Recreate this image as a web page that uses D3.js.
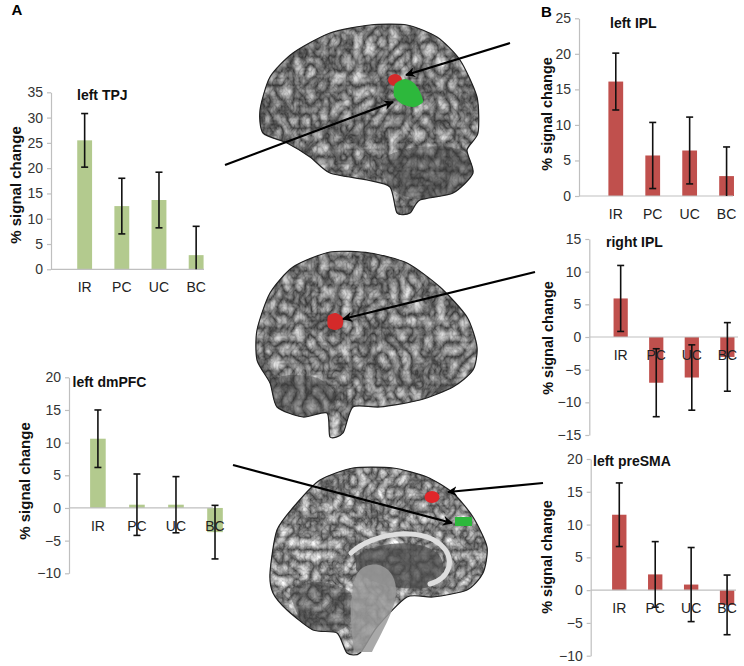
<!DOCTYPE html>
<html>
<head>
<meta charset="utf-8">
<script src="https://cdn.jsdelivr.net/npm/d3@7/dist/d3.min.js"></script>
<style>
  html, body { margin: 0; padding: 0; background: #fff; }
  svg { display: block; font-family: "Liberation Sans", Arial, sans-serif; }
</style>
</head>
<body>
<svg id="fig" width="744" height="666"></svg>
<script>
// ---------------- DATA ----------------
const categories = ["IR", "PC", "UC", "BC"];

const tpjMeans = [25.5, 12.5, 13.7, 2.8];
const tpjErrors = [5.3, 5.5, 5.5, 5.7];
const tpjTicks = [0, 5, 10, 15, 20, 25, 30, 35];

const dmpfcMeans = [10.6, 0.5, 0.5, -3.7];
const dmpfcErrors = [4.4, 4.7, 4.3, 4.1];
const dmpfcTicks = [-10, -5, 0, 5, 10, 15, 20];

const leftIplMeans = [16.1, 5.7, 6.4, 2.8];
const leftIplErrors = [4.0, 4.65, 4.7, 4.1];
const leftIplTicks = [0, 5, 10, 15, 20, 25];

const rightIplMeans = [5.9, -7.0, -6.2, -3.05];
const rightIplErrors = [5.05, 5.2, 5.0, 5.25];
const rightIplTicks = [-15, -10, -5, 0, 5, 10, 15];

const preSmaMeans = [11.5, 2.4, 0.85, -2.25];
const preSmaErrors = [4.85, 5.0, 5.65, 4.55];
const preSmaTicks = [-10, -5, 0, 5, 10, 15, 20];

const yLabel = "% signal change";
const GREEN = "#b3ca8e";
const RED = "#c0504d";

// ---------------- LAYOUT ----------------
const charts = [
  { title: "left TPJ", means: tpjMeans, errors: tpjErrors, ticks: tpjTicks, color: GREEN,
    axisX: 51, yMinPx: 269.3, yMaxPx: 92.3, cFirst: 73.5, cLast: 185, xEnd: 204,
    titleX: 77, titleY: 100, labX: 15, labY: 185, labFs: 15 },
  { title: "left dmPFC", means: dmpfcMeans, errors: dmpfcErrors, ticks: dmpfcTicks, color: GREEN,
    axisX: 69, yMinPx: 573.3, yMaxPx: 377.3, cFirst: 86.2, cLast: 203.3, xEnd: 213,
    titleX: 72.5, titleY: 387, labX: 24, labY: 481, labFs: 15 },
  { title: "left IPL", means: leftIplMeans, errors: leftIplErrors, ticks: leftIplTicks, color: RED,
    axisX: 579, yMinPx: 196, yMaxPx: 18.3, cFirst: 604.7, cLast: 715.5, xEnd: 733,
    titleX: 610, titleY: 28, labX: 547, labY: 114, labFs: 14.5 },
  { title: "right IPL", means: rightIplMeans, errors: rightIplErrors, ticks: rightIplTicks, color: RED,
    axisX: 589.3, yMinPx: 435, yMaxPx: 239, cFirst: 610, cLast: 716.7, xEnd: 738,
    titleX: 606, titleY: 246.5, labX: 548, labY: 338, labFs: 14.5 },
  { title: "left preSMA", means: preSmaMeans, errors: preSmaErrors, ticks: preSmaTicks, color: RED,
    axisX: 590.7, yMinPx: 655.7, yMaxPx: 459, cFirst: 608.5, cLast: 716.3, xEnd: 736,
    titleX: 593, titleY: 466, labX: 547, labY: 557, labFs: 14.5 }
];

const svg = d3.select("#fig");
const defs = svg.append("defs");

// ---------------- BRAIN ILLUSTRATIONS (decoration) ----------------
function texFilter(id, freq, seed, gain, offset) {
  defs.append("filter").attr("id", id).attr("x", 0).attr("y", 0).attr("width", 1).attr("height", 1)
    .attr("color-interpolation-filters", "sRGB")
    .call(f => {
      f.append("feTurbulence").attr("type", "turbulence").attr("baseFrequency", freq)
        .attr("numOctaves", 3).attr("seed", seed).attr("result", "t");
      f.append("feColorMatrix").attr("in", "t").attr("type", "matrix")
        .attr("values", `0 0 0 ${gain} ${offset}  0 0 0 ${gain} ${offset}  0 0 0 ${gain} ${offset}  0 0 0 0 1`);
    });
}
texFilter("tex", "0.085 0.07", 7, 0.85, 0.2);
texFilter("tex2", "0.09 0.08", 11, 0.95, 0.24);

defs.append("marker").attr("id", "arrow").attr("viewBox", "0 0 10 10")
  .attr("refX", 9).attr("refY", 5).attr("markerWidth", 4.5).attr("markerHeight", 4.5)
  .attr("orient", "auto").attr("markerUnits", "strokeWidth")
  .append("path").attr("d", "M0,0 L10,5 L0,10 L3,5 Z").attr("fill", "#000");

const closed = d3.line().curve(d3.curveCardinalClosed.tension(0.3));

const brains = [
  { id: "b1", filter: "tex",
    outline: [[260,110],[270,77],[293,53],[330,33],[370,25],[407,25],[437,37],[460,60],[477,97],[478,133],
              [467,150],[473,173],[453,193],[420,200],[410,213],[397,213],[390,187],[367,180],[330,173],
              [310,157],[287,143],[263,133]],
    cereb: [[382,160],[410,148],[450,147],[472,160],[470,185],[450,196],[415,199],[390,188]] },
  { id: "b2", filter: "tex",
    outline: [[257,360],[257,330],[270,293],[293,267],[330,252],[370,253],[407,263],[440,287],[467,317],
              [477,347],[473,370],[453,387],[420,400],[380,407],[353,407],[343,433],[330,437],[327,413],
              [303,417],[277,407],[270,383]],
    cereb: [[270,382],[290,375],[318,378],[335,395],[330,412],[305,418],[280,410]] },
  { id: "b3", filter: "tex2",
    outline: [[270,573],[277,530],[297,503],[320,480],[353,468],[393,468],[427,477],[453,493],[473,517],
              [487,547],[483,573],[467,590],[433,597],[407,597],[377,627],[360,653],[347,653],[337,633],
              [313,630],[287,610],[273,593]],
    cereb: [[290,590],[320,582],[350,592],[352,620],[335,632],[305,626]] }
];

const brainG = svg.append("g").attr("class", "brains");
brains.forEach(b => {
  defs.append("clipPath").attr("id", "clip-" + b.id).append("path").attr("d", closed(b.outline));
  const ext = [d3.extent(b.outline, p => p[0]), d3.extent(b.outline, p => p[1])];
  const g = brainG.append("g");
  g.append("path").attr("d", closed(b.outline)).attr("fill", "#6e6e6e");
  g.append("rect").attr("x", ext[0][0] - 5).attr("y", ext[1][0] - 5)
    .attr("width", ext[0][1] - ext[0][0] + 10).attr("height", ext[1][1] - ext[1][0] + 10)
    .attr("filter", "url(#" + b.filter + ")").attr("clip-path", "url(#clip-" + b.id + ")");
  g.append("path").attr("d", closed(b.cereb)).attr("fill", "#3a3a3a").attr("opacity", 0.4)
    .attr("clip-path", "url(#clip-" + b.id + ")");
  g.append("path").attr("d", closed(b.outline)).attr("fill", "none").attr("stroke", "#222").attr("stroke-width", 1.2);
});

// medial-view extras: thalamus, corpus callosum and brainstem
brainG.append("path")
  .attr("d", "M356,556 C380,540 425,538 440,556 C448,570 440,585 425,588 C400,590 370,585 356,570 Z")
  .attr("fill", "#4a4a4a").attr("opacity", 0.7);
brainG.append("path")
  .attr("d", "M351,553 C372,533 420,526 441,545 C456,559 450,578 430,584")
  .attr("fill", "none").attr("stroke", "#dedede").attr("stroke-width", 5).attr("stroke-linecap", "round");
brainG.append("path")
  .attr("d", "M366,566 C382,560 396,572 396,590 C396,608 384,628 372,652 L354,652 C352,632 349,612 352,594 C354,580 356,570 366,566 Z")
  .attr("fill", "#9a9a9a").attr("opacity", 0.85);

// activation blobs
brainG.append("ellipse").attr("cx", 395).attr("cy", 80).attr("rx", 7).attr("ry", 6).attr("fill", "#d42a2a");
brainG.append("path").attr("d", closed([[395,84],[405,79],[414,83],[420,92],[423,102],[414,107],[402,104],[394,96]]))
  .attr("fill", "#2db83c");
brainG.append("path").attr("d", closed([[328,316],[336,313],[343,318],[342,327],[335,330],[328,327]]))
  .attr("fill", "#d42a2a");
brainG.append("ellipse").attr("cx", 432).attr("cy", 497).attr("rx", 7.5).attr("ry", 6).attr("fill", "#e0262a");
brainG.append("rect").attr("x", 455).attr("y", 517).attr("width", 17).attr("height", 9).attr("fill", "#2db83c");

// arrows
const arrows = [
  [[510,43],[406,75]],
  [[225,165],[393,102]],
  [[535,272],[343,319]],
  [[233,465],[452,523]],
  [[543,483],[448,492]]
];
arrows.forEach(a => {
  brainG.append("line").attr("x1", a[0][0]).attr("y1", a[0][1]).attr("x2", a[1][0]).attr("y2", a[1][1])
    .attr("stroke", "#000").attr("stroke-width", 2.2).attr("marker-end", "url(#arrow)");
});

// ---------------- BAR CHARTS ----------------
charts.forEach(c => {
  const g = svg.append("g");
  const domMin = d3.min(c.ticks), domMax = d3.max(c.ticks);
  const y = d3.scaleLinear().domain([domMin, domMax]).range([c.yMinPx, c.yMaxPx]);
  const step = (c.cLast - c.cFirst) / (categories.length - 1);
  const x0 = c.cFirst - 0.5 * step;
  const x = d3.scaleBand().domain(categories).range([x0, x0 + 4.6 * step]).padding(0.6);
  const rows = categories.map((k, i) => ({ k, m: c.means[i], e: c.errors[i] }));

  // bars
  g.selectAll("rect.bar").data(rows).join("rect").attr("class", "bar")
    .attr("x", d => x(d.k)).attr("width", x.bandwidth())
    .attr("y", d => y(Math.max(0, d.m))).attr("height", d => Math.abs(y(d.m) - y(0)))
    .attr("fill", c.color);

  // y axis
  const ax = g.append("g").attr("transform", `translate(${c.axisX},0)`)
    .call(d3.axisLeft(y).tickValues(c.ticks).tickSize(4).tickSizeOuter(0).tickPadding(4));
  ax.select(".domain").attr("stroke", "#bfbfbf").attr("stroke-width", 1.2);
  ax.selectAll(".tick line").attr("stroke", "#bfbfbf").attr("stroke-width", 1.2);
  ax.selectAll(".tick text").attr("font-size", 14).attr("fill", "#333")
    .attr("font-family", "'Liberation Sans', Arial, sans-serif");

  // zero / category line
  g.append("line").attr("x1", c.axisX).attr("x2", c.xEnd).attr("y1", y(0)).attr("y2", y(0))
    .attr("stroke", "#bfbfbf").attr("stroke-width", 1.2);

  // error bars
  const eb = g.selectAll("g.err").data(rows).join("g").attr("class", "err")
    .attr("transform", d => `translate(${x(d.k) + x.bandwidth() / 2},0)`);
  eb.append("line").attr("y1", d => y(Math.max(domMin, d.m - d.e))).attr("y2", d => y(d.m + d.e))
    .attr("stroke", "#111").attr("stroke-width", 1.6);
  eb.append("line").attr("x1", -3.5).attr("x2", 3.5).attr("y1", d => y(d.m + d.e)).attr("y2", d => y(d.m + d.e))
    .attr("stroke", "#111").attr("stroke-width", 1.6);
  eb.filter(d => d.m - d.e > domMin).append("line").attr("x1", -3.5).attr("x2", 3.5)
    .attr("y1", d => y(d.m - d.e)).attr("y2", d => y(d.m - d.e))
    .attr("stroke", "#111").attr("stroke-width", 1.6);

  // category labels
  g.selectAll("text.cat").data(rows).join("text").attr("class", "cat")
    .attr("x", d => x(d.k) + x.bandwidth() / 2).attr("y", y(0) + 23)
    .attr("text-anchor", "middle").attr("font-size", 14).attr("fill", "#222").text(d => d.k);

  // title
  g.append("text").attr("x", c.titleX).attr("y", c.titleY).attr("font-size", 14)
    .attr("font-weight", "bold").attr("fill", "#111").text(c.title);

  // y label
  g.append("text").attr("transform", `translate(${c.labX},${c.labY}) rotate(-90)`)
    .attr("text-anchor", "middle").attr("dominant-baseline", "central")
    .attr("font-size", c.labFs).attr("font-weight", "bold").attr("fill", "#111").text(yLabel);
});

// panel letters
svg.append("text").attr("x", 11.5).attr("y", 15).attr("font-size", 15).attr("font-weight", "bold").text("A");
svg.append("text").attr("x", 541).attr("y", 17).attr("font-size", 15).attr("font-weight", "bold").text("B");
</script>
</body>
</html>
